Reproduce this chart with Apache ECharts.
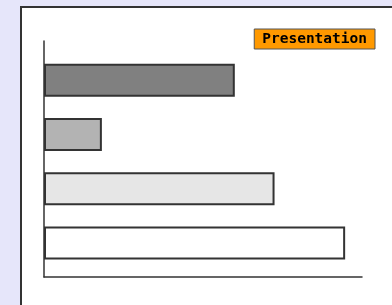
<!DOCTYPE html>
<html><head><meta charset="utf-8">
<script src="https://cdn.jsdelivr.net/npm/echarts@6/dist/echarts.min.js"></script>
<style>html,body{margin:0;padding:0;background:#e6e6fa;}#c{width:392px;height:305px;}</style>
</head><body><div id="c"></div>
<script>
const categories = ['A', 'B', 'C', 'D'];
const values = [60, 18.2, 72.5, 94.7];
const barColors = ['#808080', '#b3b3b3', '#e6e6e6', '#ffffff'];
const seriesName = 'Presentation';

const chart = echarts.init(document.getElementById('c'), null, {renderer: 'canvas'});
chart.setOption({
  animation: false,
  backgroundColor: '#e6e6fa',
  graphic: [{
    type: 'rect', left: 20, top: 6, z: -10,
    shape: {width: 400, height: 320},
    style: {fill: '#ffffff', stroke: '#333333', lineWidth: 2}
  }],
  legend: {
    data: [seriesName],
    right: 17, top: 29,
    icon: 'none', itemWidth: 0, itemGap: 0,
    padding: [3, 8, 2, 8],
    backgroundColor: '#ff9900',
    borderColor: '#555555', borderWidth: 1,
    textStyle: {fontFamily: 'DejaVu Sans Mono', fontWeight: 'bold', fontSize: 14.5, color: '#000', padding: [0,0,0,-5]}
  },
  grid: [
    {left: 44, right: 30, top: 53, bottom: 35},
    {left: 44, right: 30, top: 41, bottom: 28}
  ],
  xAxis: [
    {gridIndex: 0, type: 'value', min: 0, max: 100, show: false},
    {gridIndex: 1, type: 'value', min: 0, max: 100,
     axisLine: {show: true, lineStyle: {color: '#333', width: 1.5}},
     axisTick: {show: false}, axisLabel: {show: false}, splitLine: {show: false}}
  ],
  yAxis: [
    {gridIndex: 0, type: 'category', data: categories, inverse: true, show: false},
    {gridIndex: 1, type: 'value', min: 0, max: 1,
     axisLine: {show: true, lineStyle: {color: '#333', width: 1.5}},
     axisTick: {show: false}, axisLabel: {show: false}, splitLine: {show: false}}
  ],
  series: [{
    name: seriesName, type: 'bar', xAxisIndex: 0, yAxisIndex: 0,
    barWidth: 33,
    data: values.map((v, i) => ({value: v, itemStyle: {color: barColors[i]}})),
    itemStyle: {borderColor: '#333333', borderWidth: 2, color: '#ff9900'}
  }]
});
</script></body></html>
